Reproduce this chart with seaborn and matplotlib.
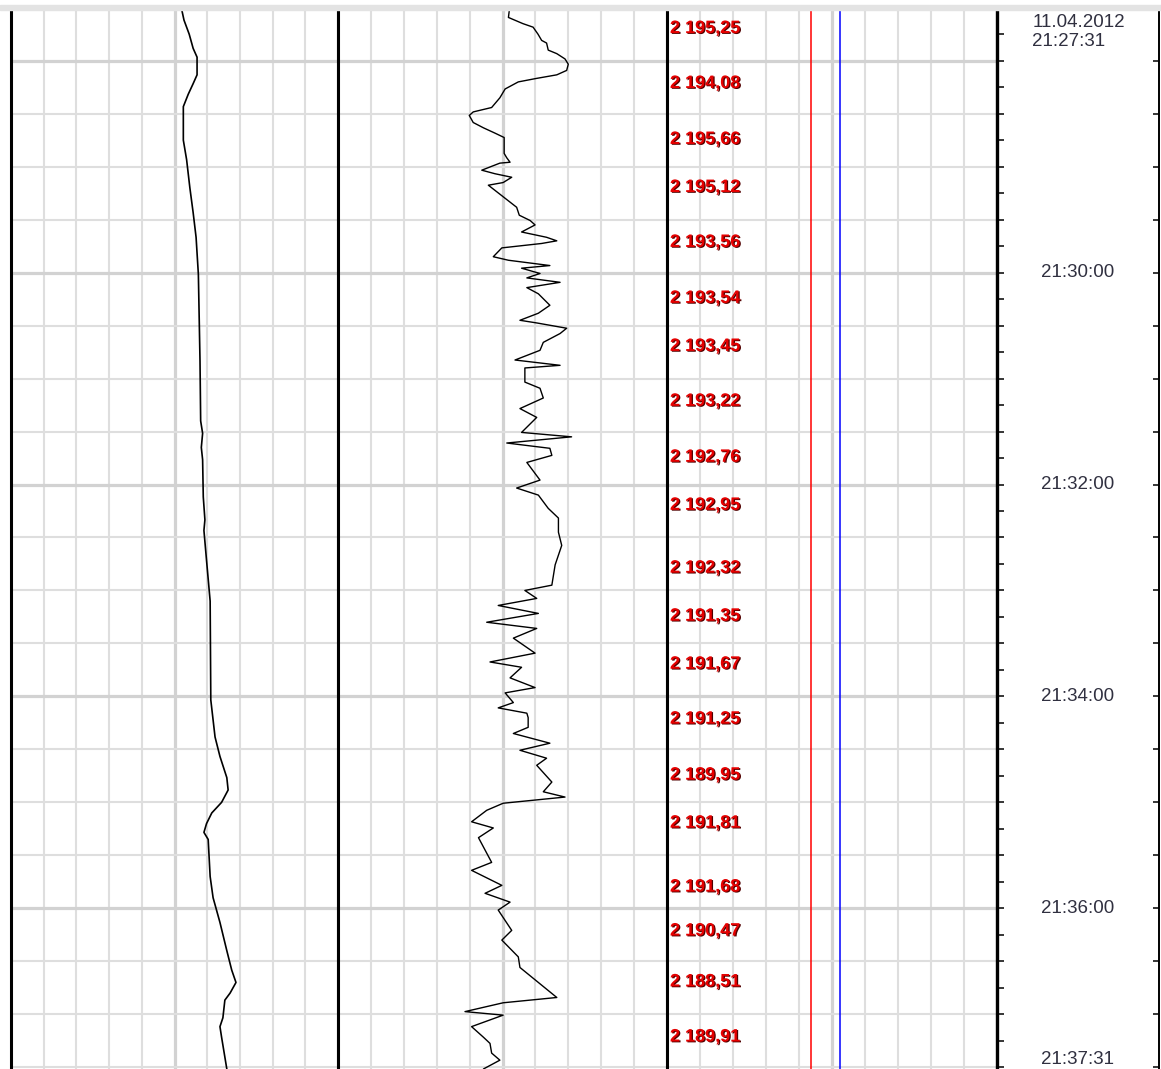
import numpy as np
import pandas as pd
import matplotlib
matplotlib.use("Agg")
import matplotlib.pyplot as plt
import matplotlib.patheffects as pe
from matplotlib.patches import Rectangle
import seaborn as sns

# time axis: seconds after 21:27:31
start = pd.Timestamp("2012-04-11 21:27:31")
end = pd.Timestamp("2012-04-11 21:37:31")

# track 1 - smooth curve (0..10 scale)
t1 = [0, 6, 14, 22, 27, 37, 42, 48, 55, 74,
      85, 101, 115, 129, 150, 199, 233, 240, 248, 255,
      276, 289, 295, 312, 335, 391, 412, 423, 435, 442,
      449, 455, 461, 466, 470, 491, 503, 517, 533, 544,
      551, 557, 561, 571, 576, 582, 600]
curve1 = [5.22, 5.29, 5.45, 5.57, 5.69, 5.69, 5.57, 5.42, 5.27, 5.27,
          5.37, 5.47, 5.57, 5.66, 5.73, 5.78, 5.80, 5.86, 5.82, 5.86,
          5.88, 5.93, 5.90, 5.98, 6.09, 6.11, 6.24, 6.39, 6.60, 6.64,
          6.44, 6.14, 5.98, 5.90, 6.03, 6.09, 6.18, 6.39, 6.60, 6.75,
          6.88, 6.70, 6.54, 6.48, 6.39, 6.44, 6.60]

# track 2 - noisy curve
t2 = [0, 4.5, 8, 10, 14, 17.5, 19, 23, 25, 28,
      31, 34.5, 37, 39, 41, 45, 50, 55.5, 58, 60,
      64, 67, 70, 72.5, 81.5, 84, 86.5, 87, 91, 93,
      95, 98, 99.5, 106, 112, 116.5, 119.5, 122, 126, 129,
      131, 132.5, 135, 140, 142, 145, 146.5, 149.5, 152, 154.5,
      157.5, 161, 167.5, 172, 176, 177.5, 180.5, 183.5, 188.5, 193,
      198.5, 201.5, 203, 211, 214.5, 220, 226, 231, 239.5, 242,
      245.5, 248.5, 252.5, 256.5, 266.5, 271, 275, 282.5, 288, 296,
      303.5, 314.5, 326, 329, 333.5, 337.5, 342, 347, 350.5, 356,
      364.5, 369.5, 372.5, 378.5, 384, 387, 392.5, 395.5, 398.5, 401,
      406.5, 410, 415.5, 419.5, 424, 428, 437.5, 443, 446, 449.5,
      453.5, 460, 463.5, 469, 483, 487.5, 496, 500.5, 505.5, 510,
      521.5, 527, 536.5, 542.5, 559.5, 562.5, 567.5, 569.5, 576, 582,
      585.5, 591, 595, 600]
curve2 = [5.21, 5.18, 5.62, 5.93, 6.08, 6.19, 6.34, 6.39, 6.65, 6.90,
          7.00, 6.95, 6.65, 6.04, 5.48, 5.08, 4.92, 4.67, 4.11, 3.99,
          4.11, 4.42, 4.77, 5.05, 5.05, 5.13, 5.23, 4.92, 4.37, 4.77,
          5.28, 5.02, 4.57, 5.02, 5.43, 5.51, 5.84, 5.99, 5.58, 6.34,
          6.65, 6.19, 4.98, 4.72, 5.18, 6.44, 5.58, 6.14, 5.74, 6.75,
          5.74, 6.09, 6.44, 6.09, 5.53, 6.04, 6.95, 6.75, 6.24, 6.14,
          5.38, 6.75, 5.68, 5.68, 6.14, 6.24, 5.53, 6.04, 5.58, 7.10,
          5.13, 6.44, 6.50, 5.74, 6.14, 5.43, 6.09, 6.39, 6.70, 6.70,
          6.80, 6.60, 6.50, 5.68, 6.04, 4.87, 6.09, 4.52, 6.04, 5.33,
          5.99, 4.62, 5.58, 5.23, 5.99, 5.08, 5.33, 4.87, 5.74, 5.78,
          5.78, 5.33, 6.44, 5.53, 6.34, 6.04, 6.50, 6.24, 6.90, 5.02,
          4.52, 4.06, 4.72, 4.27, 4.67, 4.06, 4.98, 4.47, 5.23, 4.87,
          5.28, 4.98, 5.48, 5.53, 6.65, 5.02, 3.86, 5.02, 4.06, 4.42,
          4.62, 4.67, 4.92, 4.42]

# track 3 - depth marks
depth_t = [10.8, 41.9, 73.6, 100.8, 131.9, 163.6, 190.8, 221.9, 253.6, 280.8,
           316.4, 343.6, 370.8, 401.9, 433.6, 460.8, 497.0, 521.9, 550.7, 581.9]
depth_vals = [2195.25, 2194.08, 2195.66, 2195.12, 2193.56, 2193.54, 2193.45, 2193.22, 2192.76, 2192.95,
              2192.32, 2191.35, 2191.67, 2191.25, 2189.95, 2191.81, 2191.68, 2190.47, 2188.51, 2189.91]
red_level = 4.36
blue_level = 5.24

time_labels = ["21:30:00", "21:32:00", "21:34:00", "21:36:00"]

T_MAX = (end - start).total_seconds()


def secs(ts):
    return (ts - start).total_seconds()


grid_times = pd.date_range("2012-04-11 21:28:00", end, freq="30s")
grid_t = [secs(g) for g in grid_times]
grid_major = [secs(g) for g in grid_times if g.second == 0 and g.minute % 2 == 0]
tick15 = [secs(g) for g in pd.date_range("2012-04-11 21:27:45", end, freq="15s")]

sns.set_style("white")
plt.rcParams["font.family"] = ["Liberation Sans", "DejaVu Sans"]

W, H = 1161, 1069
fig = plt.figure(figsize=(W / 100, H / 100), dpi=100)
fig.patches.append(Rectangle((0, 1 - 9.5 / H), 1, 5 / H, transform=fig.transFigure,
                             color="#e3e3e3", zorder=0))


def px_axes(x0, x1, y0=9.5, y1=H):
    return fig.add_axes([x0 / W, 1 - y1 / H, (x1 - x0) / W, (y1 - y0) / H])


THIN = "#dedede"
THICK = "#d2d2d2"


def setup_track(ax):
    ax.set_xlim(0, 10)
    ax.set_ylim(T_MAX, 0)
    for v in range(1, 10):
        ax.axvline(v, color=THICK if v == 5 else THIN, lw=2.3 if v == 5 else 1.5, zorder=0)
    for g in grid_t:
        major = g in grid_major
        ax.axhline(g, color=THICK if major else THIN, lw=2.3 if major else 1.5, zorder=0)
    ax.set_xticks([])
    ax.set_yticks([])
    for s in ["top", "bottom"]:
        ax.spines[s].set_visible(False)
    for s in ["left", "right"]:
        ax.spines[s].set_color("black")
        ax.spines[s].set_linewidth(2.2)
    ax.set_xlabel("")
    ax.set_ylabel("")


ax1 = px_axes(11, 338)
ax2 = px_axes(338, 667)
ax3 = px_axes(667, 997)
ax4 = px_axes(997, 1159)

sns.lineplot(x=curve1, y=t1, orient="y", sort=False, estimator=None,
             color="black", lw=1.2, ax=ax1)
sns.lineplot(x=curve2, y=t2, orient="y", sort=False, estimator=None,
             color="black", lw=1.0, ax=ax2)
for ax in (ax1, ax2, ax3):
    setup_track(ax)

ax3.axvline(red_level, color="#ff0000", lw=1.1, zorder=2)
ax3.axvline(blue_level, color="#0000ff", lw=1.1, zorder=2)
for t, v in zip(depth_t, depth_vals):
    lab = f"{v:,.2f}".replace(",", " ").replace(".", ",")
    ax3.text(0.09, t, lab, color="#e60000", fontsize=13, fontweight="bold",
             va="center", ha="left", zorder=3,
             path_effects=[pe.withSimplePatchShadow(offset=(0.9, -0.6),
                                                    shadow_rgbFace="#500000", alpha=1)])

# time axis panel
ax4.set_xlim(0, 1)
ax4.set_ylim(T_MAX, 0)
ax4.set_xticks([])
for s in ["top", "bottom"]:
    ax4.spines[s].set_visible(False)
ax4.spines["left"].set_linewidth(2.4)
ax4.spines["left"].set_color("black")
ax4.spines["right"].set_linewidth(1.4)
ax4.spines["right"].set_color("black")
ax4.set_yticks(tick15)
ax4.tick_params(axis="y", direction="in", length=5, width=1.1, color="black",
                left=True, right=False, labelleft=False, labelright=False)
ax4r = ax4.twinx()
ax4r.set_ylim(T_MAX, 0)
ax4r.set_yticks(grid_t)
ax4r.tick_params(axis="y", direction="in", length=4, width=1.1, color="black",
                 right=True, labelright=False)
for s in ["top", "bottom", "left", "right"]:
    ax4r.spines[s].set_visible(False)

txt_color = "#303040"
ax4.text(0.217, 7.1, start.strftime("%d.%m.%Y"), fontsize=13.5, color=txt_color,
         ha="left", va="center")
ax4.text(0.217, 18.4, start.strftime("%H:%M:%S"), fontsize=13.5, color=txt_color,
         ha="left", va="center")
for lab in time_labels:
    t = secs(pd.Timestamp("2012-04-11 " + lab))
    ax4.text(0.5, t, lab, fontsize=13.5, color=txt_color, ha="center", va="center")
ax4.text(0.5, T_MAX - 0.5, end.strftime("%H:%M:%S"), fontsize=13.5, color=txt_color,
         ha="center", va="bottom")

fig.savefig("out.png", dpi=100)
